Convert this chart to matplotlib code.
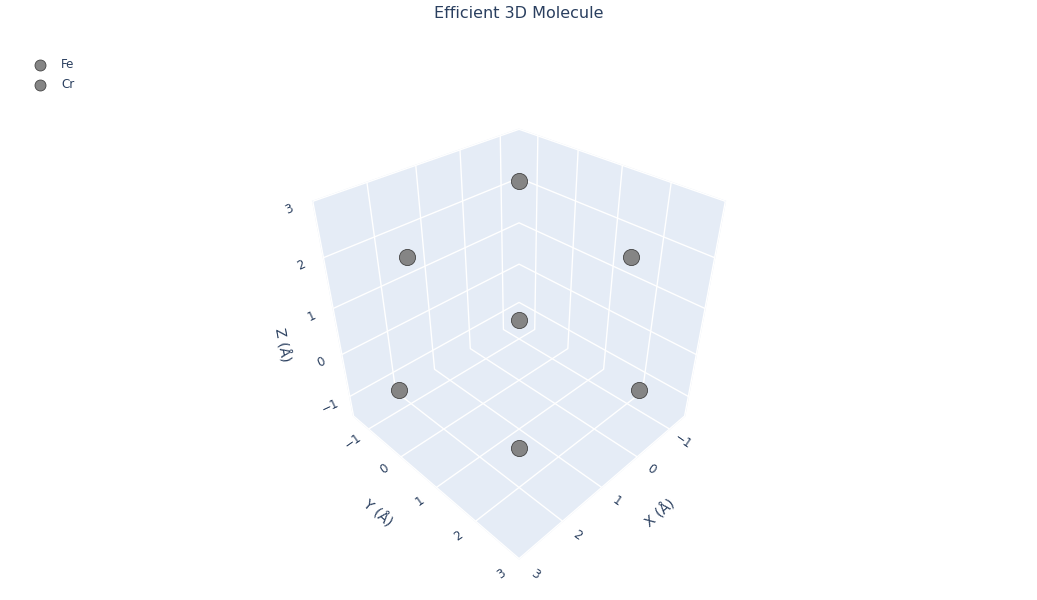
import matplotlib
matplotlib.use("Agg")
import matplotlib.pyplot as plt
from matplotlib.text import Text

fe_x = [2.85, 0, 0, 0, 2.4, 2.38]
fe_y = [0, 2.85, 0, 2.4, 0, 2.38]
fe_z = [0, 0, 2.87, 2.38, 2.38, 0]
cr_x = [0]
cr_y = [0]
cr_z = [0]
axis_range = (-1.5, 3)
ticks = [-1, 0, 1, 2, 3]
tick_labels = ["\u22121", "0", "1", "2", "3"]
title = "Efficient 3D Molecule"

TXT = "#2a3f5f"
PANE = "#E5ECF6"
plt.rcParams["font.family"] = ["DejaVu Sans"]

fig = plt.figure(figsize=(10.37, 6.0), dpi=100)
ax = fig.add_axes([-7 / 1037, -8 / 600, 1, 560 / 600], projection="3d")
ax.set_proj_type("persp", focal_length=0.226)
ax.view_init(elev=35.26, azim=45)
ax.set_box_aspect((1, 1, 1), zoom=0.78)

marker = dict(s=135, c="#858585", edgecolors="#444444", linewidths=0.6, depthshade=False, alpha=1)
ax.scatter(fe_x, fe_y, fe_z, label="Fe", **marker)
ax.scatter(cr_x, cr_y, cr_z, label="Cr", **marker)

ax.set_xlim(*axis_range, view_margin=0)
ax.set_ylim(*axis_range, view_margin=0)
ax.set_zlim(*axis_range, view_margin=0)


def nudge(text, dx, dy):
    """Keep a 3D axis text dx, dy pixels away from where mplot3d places it."""
    def set_position(xy):
        px = ax.transData.transform(xy) + (dx, dy)
        Text.set_position(text, ax.transData.inverted().transform(px))
    text.set_position = set_position


styles = (
    (ax.xaxis, "X (Å)", 45, "left", 20, (0, 17)),
    (ax.yaxis, "Y (Å)", -45, "right", 20, (-1, 17)),
    (ax.zaxis, "Z (Å)", -80, "left", 14, (4, -7)),
)
for axis, name, rot, label_ha, pad, label_shift in styles:
    axis.set_ticks(ticks)
    axis.set_ticklabels(tick_labels)
    axis.set_pane_color(PANE)
    axis.pane.set_edgecolor(PANE)
    axis.line.set_color((1, 1, 1, 0))
    axis._axinfo["grid"].update(color="white", linewidth=1.0)
    axis._axinfo["tick"].update(inward_factor=0, outward_factor=0)
    axis._axinfo["label"].update(ha=label_ha, va="center")
    axis.set_tick_params(labelsize=8.6, labelcolor=TXT, color=(1, 1, 1, 0), pad=4)
    axis.set_label_text(name, fontsize=10.1, color=TXT, rotation=rot)
    axis.labelpad = pad
    nudge(axis.label, *label_shift)
ax.tick_params(axis="x", labelrotation=-35)
ax.tick_params(axis="y", labelrotation=35)
ax.tick_params(axis="z", labelrotation=25)
for axis, shift in ((ax.xaxis, (4, 5)), (ax.yaxis, (-6, 5))):
    for tick in axis.get_major_ticks():
        tick.label1.set_ha("center")
        tick.label1.set_va("center")
        nudge(tick.label1, *shift)

fig.text(518.5 / 1037, 1 - 14 / 600, title, ha="center", va="center", fontsize=11.5, color=TXT)
fig.legend(loc="upper left", bbox_to_anchor=(28.5 / 1037, 1 - 58 / 600), frameon=False, fontsize=8.6,
           labelcolor=TXT, markerscale=0.68, handletextpad=0.75, labelspacing=0.6, borderaxespad=0, borderpad=0)
fig.savefig("out.png", dpi=100, facecolor="white")
